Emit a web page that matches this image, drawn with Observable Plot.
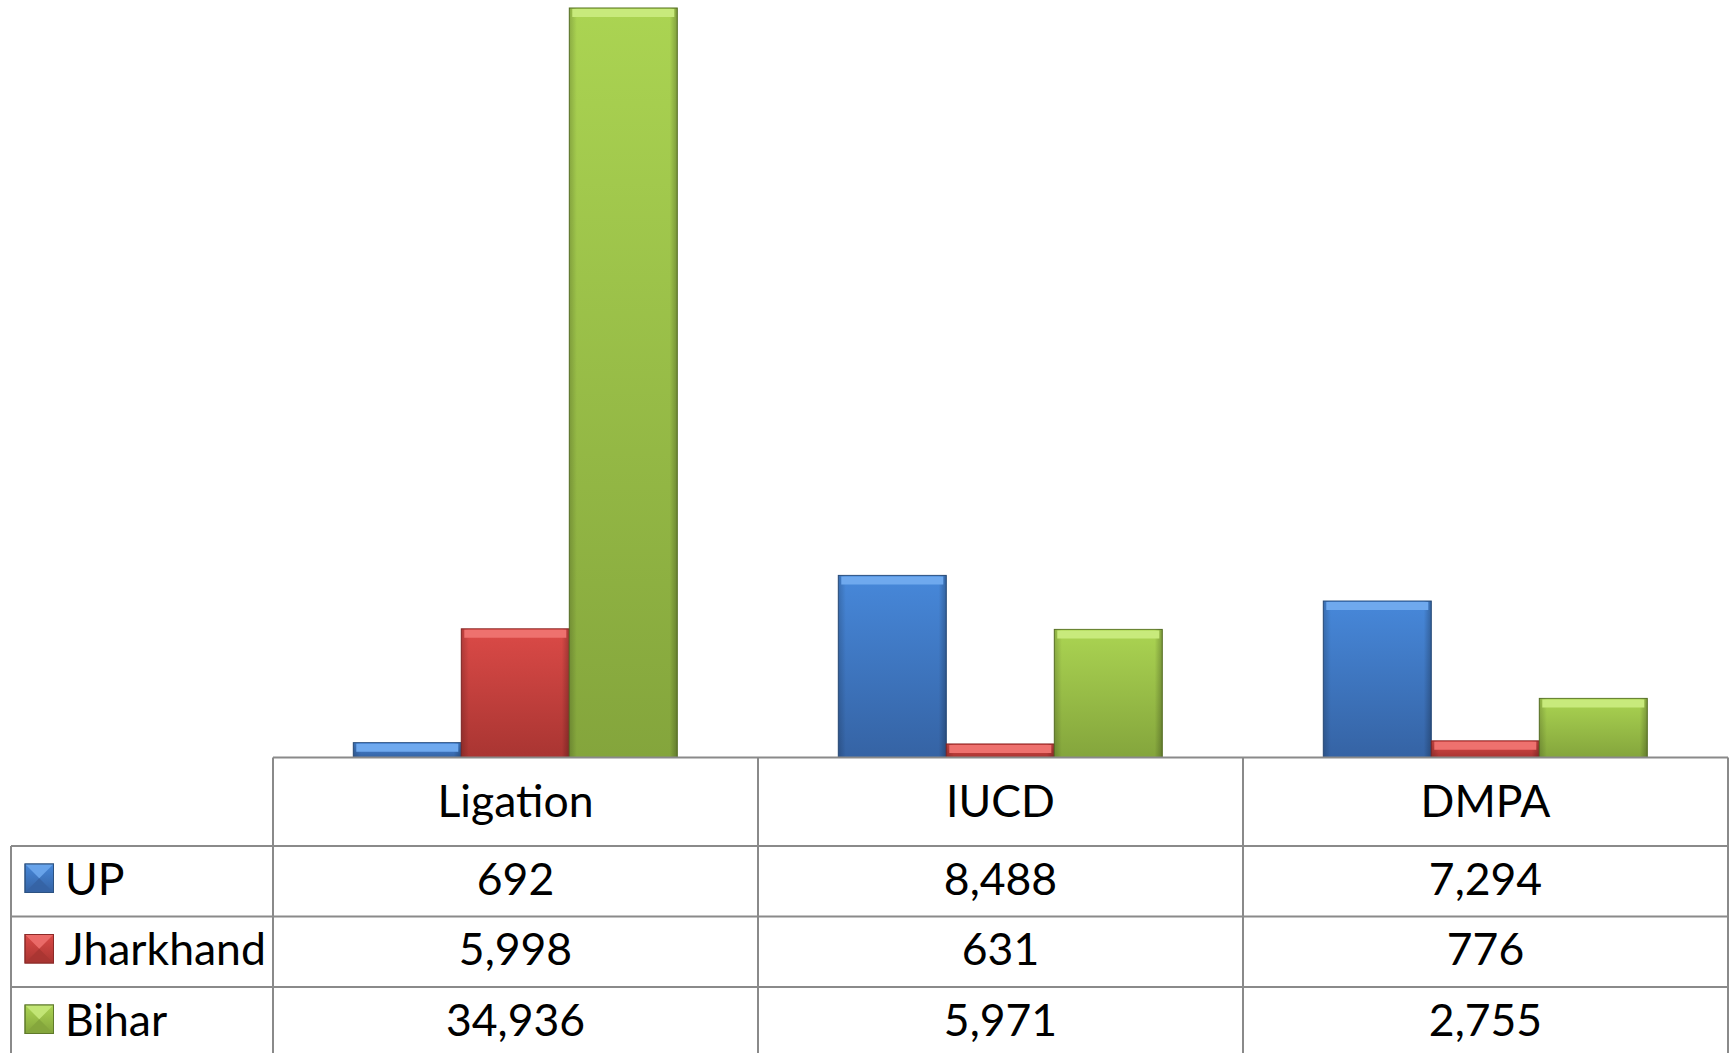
<!DOCTYPE html>
<html>
<head>
<meta charset="utf-8">
<script src="https://cdn.jsdelivr.net/npm/d3@7"></script>
<script src="https://cdn.jsdelivr.net/npm/@observablehq/plot@0.6"></script>
<style>
  html, body { margin: 0; padding: 0; background: #ffffff; }
  #chart { width: 1733px; height: 1053px; overflow: hidden; }
  svg { display: block; }
</style>
</head>
<body>
<div id="chart"></div>
<script>
// ---- data ----
const categories = ["Ligation", "IUCD", "DMPA"];
const series = ["UP", "Jharkhand", "Bihar"];
const upValues = [692, 8488, 7294];
const jharkhandValues = [5998, 631, 776];
const biharValues = [34936, 5971, 2755];
const seriesValues = [upValues, jharkhandValues, biharValues];

// ---- styles ----
const topColors = ["#4788da", "#db4a47", "#abd452"];
const bottomColors = ["#3563a4", "#a93532", "#84a53c"];
const edgeColors = ["#2c5282", "#8c2a28", "#5f7a2a"];
const bevelColors = ["#6fa9ee", "#ee716e", "#c8ea7c"];
const FONT = "Lato, 'Open Sans', sans-serif";

const data = [];
series.forEach((s, si) => categories.forEach((c, ci) => {
  data.push({category: c, series: s, value: seriesValues[si][ci]});
}));

const W = 1733, H = 1053;
const baselineY = 757.5;

const defsMark = () => {
  const defs = d3.create("svg:defs");
  series.forEach((s, i) => {
    const g = defs.append("linearGradient").attr("id", "bar-g" + i)
      .attr("x1", 0).attr("y1", 0).attr("x2", 0).attr("y2", 1);
    g.append("stop").attr("offset", "0%").attr("stop-color", topColors[i]);
    g.append("stop").attr("offset", "100%").attr("stop-color", bottomColors[i]);
    const h = defs.append("linearGradient").attr("id", "side-g" + i)
      .attr("x1", 0).attr("y1", 0).attr("x2", 1).attr("y2", 0);
    h.append("stop").attr("offset", "0%").attr("stop-color", "#000").attr("stop-opacity", 0.18);
    h.append("stop").attr("offset", "7%").attr("stop-color", "#000").attr("stop-opacity", 0);
    h.append("stop").attr("offset", "93%").attr("stop-color", "#000").attr("stop-opacity", 0);
    h.append("stop").attr("offset", "100%").attr("stop-color", "#000").attr("stop-opacity", 0.25);
  });
  return defs.node();
};

const marks = [defsMark];
series.forEach((s, i) => {
  const d = data.filter(r => r.series === s);
  marks.push(Plot.barY(d, {fx: "category", x: "series", y: "value",
    fill: `url(#bar-g${i})`, stroke: edgeColors[i], strokeWidth: 1}));
  marks.push(Plot.barY(d, {fx: "category", x: "series", y: "value",
    fill: `url(#side-g${i})`}));
  marks.push(Plot.tickY(d, {fx: "category", x: "series", y: "value",
    stroke: bevelColors[i], strokeWidth: 8, dy: 4.5, insetLeft: 3, insetRight: 3}));
});

const chart = Plot.plot({
  width: W,
  height: H,
  marginTop: 6.6,
  marginBottom: H - baselineY,
  marginLeft: 272.7,
  marginRight: 4.8,
  style: {background: "#ffffff", fontFamily: FONT},
  fx: {domain: categories, padding: 0, axis: null},
  x: {domain: series, paddingInner: 0, paddingOuter: 0.733, axis: null},
  y: {domain: [0, 35000], axis: null},
  marks
});

document.getElementById("chart").appendChild(chart);

// ---- data table drawn from Plot's scales ----
const fxScale = chart.scale("fx");
const yScale = chart.scale("y");
const tableTop = yScale.apply(0);
const colW = fxScale.bandwidth;
const colLefts = categories.map(c => fxScale.apply(c));
const rightEdge = colLefts[colLefts.length - 1] + colW;
const labelLeft = 11;
const headerH = 88.5;
const rowH = 70.5;
const lineColor = "#8a8a8a";
const fontSize = 44.5;

const svgSel = d3.select(chart);
const tbl = svgSel.append("g").attr("class", "data-table");

// grid lines
const gl = tbl.append("g").attr("stroke", lineColor).attr("stroke-width", 2).attr("fill", "none");
gl.append("line").attr("x1", colLefts[0]).attr("x2", rightEdge).attr("y1", tableTop).attr("y2", tableTop);
for (let r = 0; r < series.length; r++) {
  const yy = tableTop + headerH + r * rowH;
  gl.append("line").attr("x1", labelLeft).attr("x2", rightEdge).attr("y1", yy).attr("y2", yy);
}
gl.append("line").attr("x1", labelLeft).attr("x2", labelLeft).attr("y1", tableTop + headerH).attr("y2", H + 5);
colLefts.concat([rightEdge]).forEach(x => {
  gl.append("line").attr("x1", x).attr("x2", x).attr("y1", tableTop).attr("y2", H + 5);
});

// header
const txt = tbl.append("g").attr("font-family", FONT).attr("font-size", fontSize).attr("fill", "#000");
categories.forEach((c, ci) => {
  txt.append("text").attr("x", colLefts[ci] + colW / 2).attr("y", tableTop + headerH / 2 + 15)
    .attr("text-anchor", "middle").text(c);
});
// rows
const fmt = d3.format(",");
series.forEach((s, si) => {
  const rTop = tableTop + headerH + si * rowH;
  const cy = rTop + rowH / 2 - 1.5;
  // legend swatch (pyramid bevel)
  const sx = 25, sy = rTop + 18, ss = 28.5;
  const sw = tbl.append("g");
  sw.append("rect").attr("x", sx).attr("y", sy).attr("width", ss).attr("height", ss)
    .attr("fill", `url(#bar-g${si})`).attr("stroke", edgeColors[si]).attr("stroke-width", 1);
  const cx0 = sx + ss / 2, cy0 = sy + ss / 2;
  sw.append("path").attr("d", `M${sx},${sy}L${sx + ss},${sy}L${cx0},${cy0}Z`)
    .attr("fill", bevelColors[si]).attr("opacity", 0.85);
  sw.append("path").attr("d", `M${sx},${sy + ss}L${sx + ss},${sy + ss}L${cx0},${cy0}Z`)
    .attr("fill", bottomColors[si]).attr("opacity", 0.9);
  sw.append("rect").attr("x", sx).attr("y", sy).attr("width", ss).attr("height", ss)
    .attr("fill", "none").attr("stroke", edgeColors[si]).attr("stroke-width", 1);
  txt.append("text").attr("x", 65).attr("y", cy + 15).attr("text-anchor", "start").text(s);
  categories.forEach((c, ci) => {
    txt.append("text").attr("x", colLefts[ci] + colW / 2).attr("y", cy + 15)
      .attr("text-anchor", "middle").text(fmt(seriesValues[si][ci]));
  });
});
</script>
</body>
</html>
